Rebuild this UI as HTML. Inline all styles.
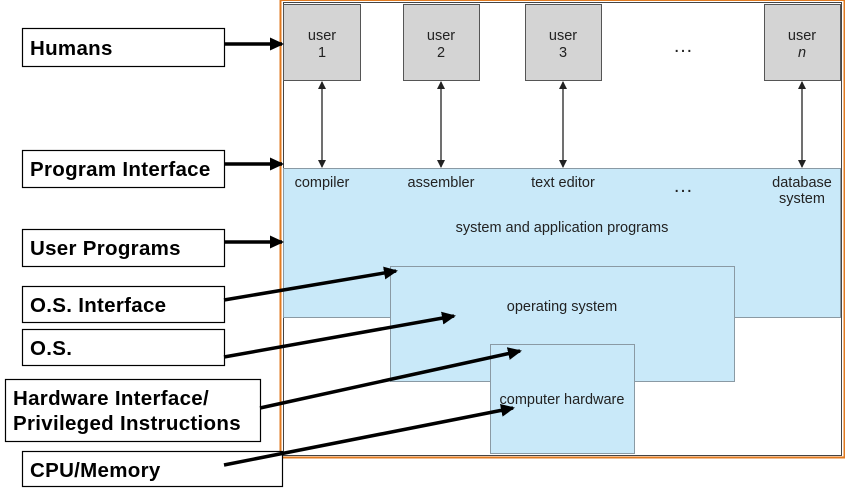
<!DOCTYPE html>
<html><head><style>html,body{margin:0;padding:0;background:#fff;}svg{display:block}</style></head><body>
<svg width="845" height="494" xmlns="http://www.w3.org/2000/svg" font-family="Liberation Sans, sans-serif">
<defs>
<marker id="a" markerWidth="14" markerHeight="13" refX="12" refY="6.5" orient="auto" markerUnits="userSpaceOnUse"><path d="M0,0 L14,6.5 L0,13 z" fill="#000"/></marker>
<marker id="s" markerWidth="8" markerHeight="8" refX="7" refY="4" orient="auto" markerUnits="userSpaceOnUse"><path d="M0,0 L8,4 L0,8 z" fill="#222"/></marker>
<marker id="s2" markerWidth="8" markerHeight="8" refX="1" refY="4" orient="auto" markerUnits="userSpaceOnUse"><path d="M8,0 L0,4 L8,8 z" fill="#222"/></marker>
</defs>
<rect x="280.5" y="0" width="564" height="457.5" fill="#fff" stroke="#e07a20" stroke-width="2"/>
<rect x="283.5" y="2.5" width="558" height="453" fill="#fff" stroke="#444" stroke-width="1"/>
<rect x="283.5" y="168.5" width="557" height="149" fill="#c9e9f9" stroke="#8a9aa4"/>
<rect x="390.5" y="266.5" width="344" height="115" fill="#c9e9f9" stroke="#8a9aa4"/>
<rect x="490.5" y="344.5" width="144" height="109" fill="#c9e9f9" stroke="#8a9aa4"/>
<g fill="#d4d4d4" stroke="#555">
<rect x="283.5" y="4.5" width="77" height="76"/>
<rect x="403.5" y="4.5" width="76" height="76"/>
<rect x="525.5" y="4.5" width="76" height="76"/>
<rect x="764.5" y="4.5" width="76" height="76"/>
</g>
<g font-size="14.5" fill="#222" text-anchor="middle">
<text x="322" y="40">user</text><text x="322" y="57">1</text>
<text x="441" y="40">user</text><text x="441" y="57">2</text>
<text x="563" y="40">user</text><text x="563" y="57">3</text>
<text x="802" y="40">user</text><text x="802" y="57" font-style="italic">n</text>
<text x="683" y="52" font-size="20">…</text>
<text x="322" y="187">compiler</text>
<text x="441" y="187">assembler</text>
<text x="563" y="187">text editor</text>
<text x="683" y="192" font-size="20">…</text>
<text x="802" y="187">database</text><text x="802" y="203">system</text>
<text x="562" y="232">system and application programs</text>
<text x="562" y="311">operating system</text>
<text x="562" y="404">computer hardware</text>
</g>
<g stroke="#222" stroke-width="1.3" marker-start="url(#s2)" marker-end="url(#s)">
<line x1="322" y1="82" x2="322" y2="167"/>
<line x1="441" y1="82" x2="441" y2="167"/>
<line x1="563" y1="82" x2="563" y2="167"/>
<line x1="802" y1="82" x2="802" y2="167"/>
</g>
<g fill="#fff" stroke="#000" stroke-width="1.2">
<rect x="22.5" y="28.5" width="202" height="38"/>
<rect x="22.5" y="150.5" width="202" height="37"/>
<rect x="22.5" y="229.5" width="202" height="37"/>
<rect x="22.5" y="286.5" width="202" height="36"/>
<rect x="22.5" y="329.5" width="202" height="36"/>
<rect x="5.5" y="379.5" width="255" height="62"/>
<rect x="22.5" y="451.5" width="260" height="35"/>
</g>
<g font-size="20.5" font-weight="bold" fill="#000" letter-spacing="0.3">
<text x="30" y="55">Humans</text>
<text x="30" y="176">Program Interface</text>
<text x="30" y="255">User Programs</text>
<text x="30" y="312">O.S. Interface</text>
<text x="30" y="355">O.S.</text>
<text x="13" y="405">Hardware Interface/</text>
<text x="13" y="430">Privileged Instructions</text>
<text x="30" y="477">CPU/Memory</text>
</g>
<g stroke="#000" stroke-width="3.5" marker-end="url(#a)">
<line x1="224" y1="44" x2="282" y2="44"/>
<line x1="224" y1="164" x2="282" y2="164"/>
<line x1="224" y1="242" x2="282" y2="242"/>
<line x1="224" y1="300" x2="396" y2="271"/>
<line x1="224" y1="357" x2="454" y2="316"/>
<line x1="260" y1="408" x2="520" y2="351"/>
<line x1="224" y1="465" x2="513" y2="408"/>
</g>
</svg>
</body></html>
